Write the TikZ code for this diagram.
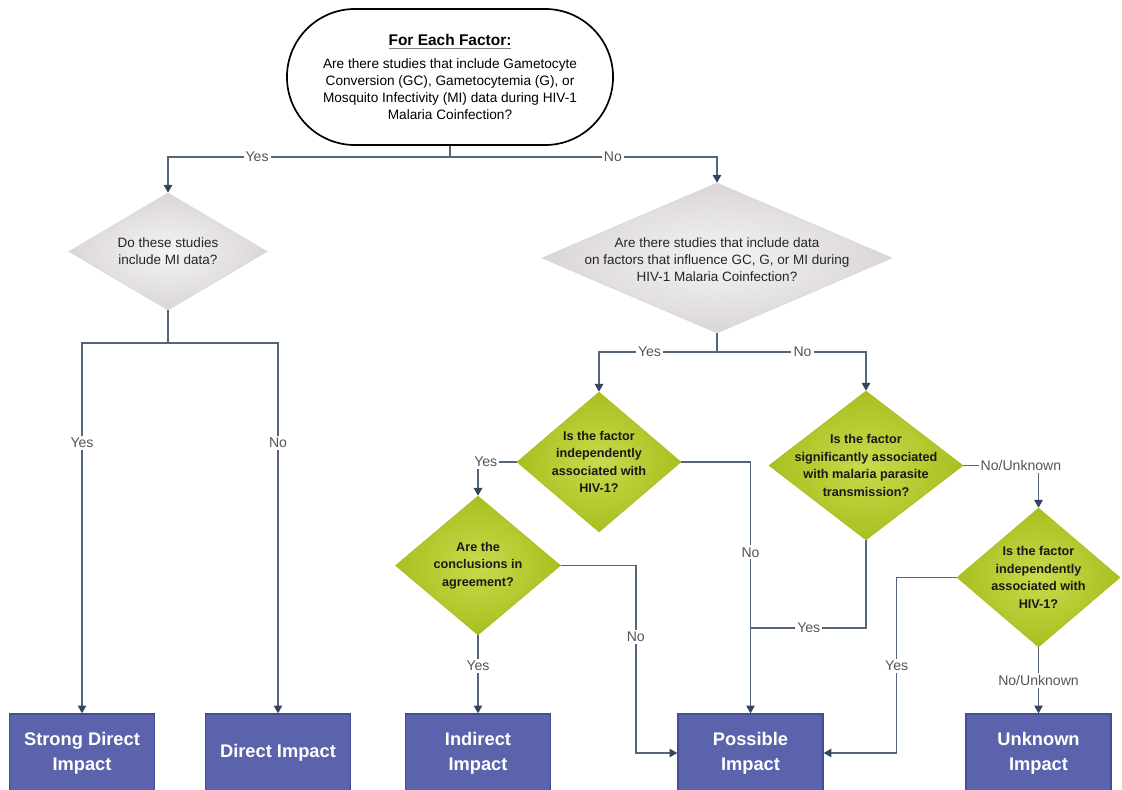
\documentclass[tikz,border=0pt]{standalone}
\usepackage{fontspec}
\setmainfont{Liberation Sans}
\usetikzlibrary{shapes.geometric,arrows.meta}
\definecolor{wire}{HTML}{56667A}
\definecolor{tip}{HTML}{34465E}
\definecolor{lbltext}{HTML}{555555}
\definecolor{greyin}{HTML}{F5F3F4}
\definecolor{greyout}{HTML}{DAD6D8}
\definecolor{limein}{HTML}{CADA4C}
\definecolor{limeout}{HTML}{A9BF1F}
\definecolor{impactbg}{HTML}{5A63AB}
\definecolor{impactln}{HTML}{454D93}
\tikzset{
  start/.style={draw=black, line width=1.2pt, fill=white, rounded corners=1.7cm,
    minimum width=8.15cm, minimum height=3.4cm, align=center,
    font=\fontsize{9.7}{12}\selectfont},
  qgrey/.style={diamond, inner sep=0pt, inner color=greyin, outer color=greyout, draw=greyout},
  qlime/.style={diamond, inner sep=0pt, inner color=limein, outer color=limeout, draw=limeout},
  qtxt/.style={align=center, font=\fontsize{9.6}{12}\selectfont, text=black!85},
  qtxtb/.style={align=center, font=\fontsize{9}{12.4}\selectfont\bfseries, text=black!90},
  impact/.style={draw=impactln, fill=impactbg, line width=1pt, minimum width=3.625cm,
    minimum height=1.95cm, align=center, text=white, font=\fontsize{13}{17.5}\selectfont\bfseries},
  wire/.style={draw=wire, line width=1pt},
  arr/.style={wire, -{Triangle[width=6pt,length=5.5pt,color=tip]}},
  lbl/.style={fill=white, inner sep=1.5pt, text=lbltext, font=\fontsize{10}{12}\selectfont},
}
\begin{document}
\begin{tikzpicture}[x=0.025cm, y=-0.025cm]
  \fill[white] (0,0) rectangle (1122,789);
  \useasboundingbox (0,0) rectangle (1122,789);

  % question nodes
  \node[start] (top) at (450,77)
    {{\fontsize{11}{13}\selectfont\bfseries\color{gray}\underline{\color{black}For Each Factor:}}\\[4pt]
     Are there studies that include Gametocyte\\
     Conversion (GC), Gametocytemia (G), or\\
     Mosquito Infectivity (MI) data during HIV-1\\
     Malaria Coinfection?};
  \node[qgrey, minimum width=4.95cm, minimum height=2.925cm,
    label={[qtxt]center:{Do these studies\\include MI data?}}] (D1) at (168,251.5) {};
  \node[qgrey, minimum width=8.75cm, minimum height=3.75cm,
    label={[qtxt, yshift=-1pt]center:{Are there studies that include data\\on factors that influence GC, G, or MI during\\HIV-1 Malaria Coinfection?}}] (D2) at (717,258) {};
  \node[qlime, minimum width=4.1cm, minimum height=3.5cm,
    label={[qtxtb]center:{Is the factor\\independently\\associated with\\HIV-1?}}] (D3) at (599,462) {};
  \node[qlime, minimum width=4.85cm, minimum height=3.725cm,
    label={[qtxtb]center:{Is the factor\\significantly associated\\with malaria parasite\\transmission?}}] (D4) at (866,465.5) {};
  \node[qlime, minimum width=4.125cm, minimum height=3.475cm,
    label={[qtxtb]center:{Are the\\conclusions in\\agreement?}}] (D5) at (478,565.5) {};
  \node[qlime, minimum width=4.075cm, minimum height=3.475cm,
    label={[qtxtb]center:{Is the factor\\independently\\associated with\\HIV-1?}}] (D6) at (1038.5,577.5) {};

  % outcomes
  \node[impact] (strong) at (82,753) {Strong Direct\\Impact};
  \node[impact] (direct) at (278,753) {Direct Impact};
  \node[impact] (indirect) at (478,753) {Indirect\\Impact};
  \node[impact] (possible) at (750.5,753) {Possible\\Impact};
  \node[impact] (unknown) at (1038.5,753) {Unknown\\Impact};

  % split points
  \coordinate (s0) at (450,157);
  \coordinate (s1) at (168,343);
  \coordinate (s2) at (717,352);
  \coordinate (jn) at (750.5,628);

  \draw[wire] (top.south) -- (s0);
  \draw[arr] (s0) -| node[lbl,pos=0.342]{Yes} (D1.north);
  \draw[arr] (s0) -| node[lbl,pos=0.305]{No} (D2.north);
  \draw[wire] (D1.south) -- (s1);
  \draw[arr] (s1) -| node[lbl,pos=0.635]{Yes} (strong.north);
  \draw[arr] (s1) -| node[lbl,pos=0.635]{No} (direct.north);
  \draw[wire] (D2.south) -- (s2);
  \draw[arr] (s2) -| node[lbl,pos=0.286]{Yes} (D3.north);
  \draw[arr] (s2) -| node[lbl,pos=0.287]{No} (D4.north);
  \draw[arr] (D3.west) -| node[lbl,pos=0.4]{Yes} (D5.north);
  \draw[arr] (D3.east) -| node[lbl,pos=0.68]{No} (possible.north);
  \draw[wire] (D4.south) |- node[lbl,pos=0.748]{Yes} (jn);
  \draw[arr] (D4.east) -| node[lbl,pos=0.383]{No/Unknown} (D6.north);
  \draw[arr] (D5.south) -- node[lbl,pos=0.39]{Yes} (indirect.north);
  \draw[arr] (D5.east) -- ++(75,0) |- node[lbl,pos=0.19]{No} (possible.west);
  \draw[arr] (D6.west) -- ++(-60,0) |- node[lbl,pos=0.251]{Yes} (possible.east);
  \draw[arr] (D6.south) -- node[lbl]{No/Unknown} (unknown.north);
\end{tikzpicture}
\end{document}
